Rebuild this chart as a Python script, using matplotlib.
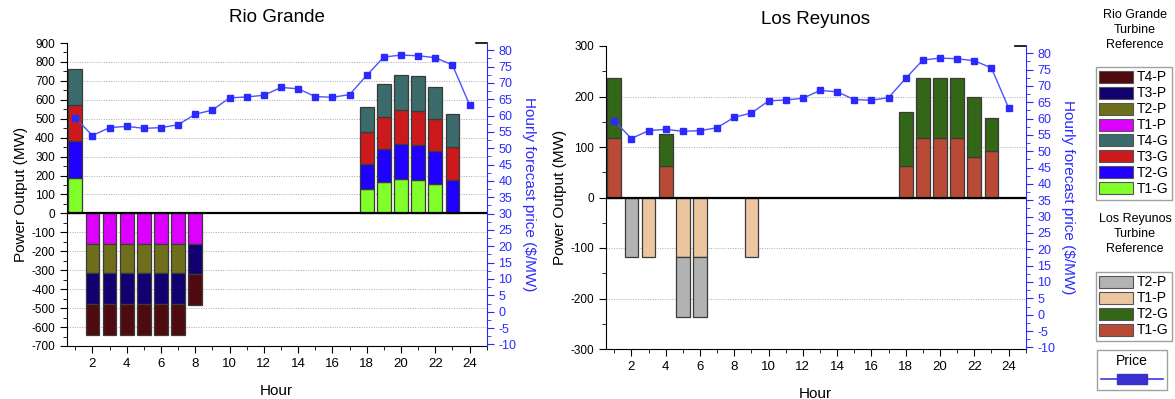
import numpy as np
import matplotlib
matplotlib.use("Agg")
import matplotlib.pyplot as plt
from matplotlib.patches import Patch
from matplotlib.lines import Line2D
from matplotlib.ticker import MultipleLocator

plt.rcParams['font.family'] = ['Liberation Sans', 'DejaVu Sans']
plt.rcParams['axes.unicode_minus'] = False

hours = np.arange(1, 25)

# hourly forecast price ($/MW), shared by both plants
price = [59.3, 53.9, 56.3, 56.7, 56.1, 56.3, 57.2, 60.4, 61.7, 65.4, 65.7, 66.2,
         68.6, 68.2, 65.8, 65.6, 66.4, 72.3, 77.9, 78.5, 78.3, 77.7, 75.5, 63.3]

# Rio Grande generation (MW), hours 1..24
rg_t1g = [188, 0, 0, 0, 0, 0, 0, 0, 0, 0, 0, 0, 0, 0, 0, 0, 0, 129, 165, 184, 175, 156, 0, 0]
rg_t2g = [193, 0, 0, 0, 0, 0, 0, 0, 0, 0, 0, 0, 0, 0, 0, 0, 0, 131, 173, 185, 185, 172, 177, 0]
rg_t3g = [190, 0, 0, 0, 0, 0, 0, 0, 0, 0, 0, 0, 0, 0, 0, 0, 0, 172, 170, 177, 180, 170, 172, 0]
rg_t4g = [192, 0, 0, 0, 0, 0, 0, 0, 0, 0, 0, 0, 0, 0, 0, 0, 0, 131, 174, 184, 188, 172, 175, 0]
# Rio Grande pumping (MW)
rg_t1p = [0, -160, -160, -160, -160, -160, -160, -160] + [0] * 16
rg_t2p = [0, -157, -157, -157, -157, -157, -157, 0] + [0] * 16
rg_t3p = [0, -162, -162, -162, -162, -162, -162, -158] + [0] * 16
rg_t4p = [0, -161, -161, -161, -161, -161, -161, -163] + [0] * 16

# Los Reyunos generation (MW)
lr_t1g = [118, 0, 0, 62, 0, 0, 0, 0, 0, 0, 0, 0, 0, 0, 0, 0, 0, 62, 118, 118, 118, 80, 92, 0]
lr_t2g = [118, 0, 0, 64, 0, 0, 0, 0, 0, 0, 0, 0, 0, 0, 0, 0, 0, 107, 118, 118, 118, 119, 65, 0]
# Los Reyunos pumping (MW)
lr_t1p = [0, 0, -118, 0, -118, -118, 0, 0, -118] + [0] * 15
lr_t2p = [0, -118, 0, 0, -118, -118, 0, 0, 0] + [0] * 15

rg_colors = {'T4-P': '#4f0a10', 'T3-P': '#100070', 'T2-P': '#6e6e1c', 'T1-P': '#dd00ff',
             'T4-G': '#3b6b6a', 'T3-G': '#cc1a1c', 'T2-G': '#1f00ff', 'T1-G': '#80ff2a'}
lr_colors = {'T2-P': '#b3b3b3', 'T1-P': '#ecc6a0', 'T2-G': '#346618', 'T1-G': '#b94b36'}

BLUE = '#2a2aff'
EDGE = '#3a3a3a'
W, H = 1175, 399


def stack(ax, series, colors):
    pos = np.zeros(24)
    neg = np.zeros(24)
    for name, vals in series:
        v = np.array(vals, dtype=float)
        base = np.where(v >= 0, pos, neg)
        m = v != 0
        ax.bar(hours[m], v[m], bottom=base[m], width=0.8, color=colors[name],
               edgecolor=EDGE, linewidth=0.9, zorder=3)
        pos += np.where(v > 0, v, 0)
        neg += np.where(v < 0, v, 0)


def style(ax, ylim, major, label_size):
    ax.set_xlim(0.5, 25)
    ax.set_ylim(*ylim)
    ax.xaxis.set_major_locator(MultipleLocator(2))
    ax.xaxis.set_minor_locator(MultipleLocator(1))
    ax.yaxis.set_major_locator(MultipleLocator(major))
    ax.yaxis.set_minor_locator(MultipleLocator(50))
    ax.tick_params(axis='x', which='major', length=5, labelsize=9.5, direction='out')
    ax.tick_params(axis='x', which='minor', length=3, direction='out')
    ax.tick_params(axis='y', which='major', length=5, labelsize=label_size, direction='out')
    ax.tick_params(axis='y', which='minor', length=3, direction='out')
    ax.spines['top'].set_visible(False)
    ax.spines['right'].set_visible(False)
    for v in ax.get_yticks():
        if ylim[0] < v < ylim[1] and v != 0:
            ax.axhline(v, color='#a8a8a8', linestyle=(0, (1, 1.5)), lw=0.7, zorder=1)
    ax.axhline(0, color='black', lw=1.6, zorder=4)
    ax.plot([0.975, 1.0], [1, 1], transform=ax.transAxes, color='black', lw=1.2, clip_on=False)
    ax.set_xlabel('Hour', fontsize=11, labelpad=10)
    ax.set_ylabel('Power Output (MW)', fontsize=11, labelpad=2)


def price_axis(ax):
    tw = ax.twinx()
    tw.plot(hours, price, color='#5050ff', lw=1.0, marker='s', markersize=4.5,
            markerfacecolor=BLUE, markeredgecolor=BLUE, zorder=5)
    tw.set_ylim(-10.5, 82.2)
    tw.yaxis.set_major_locator(MultipleLocator(5))
    tw.yaxis.set_minor_locator(MultipleLocator(2.5))
    tw.tick_params(axis='y', which='major', length=5, colors=BLUE, labelsize=9)
    tw.tick_params(axis='y', which='minor', length=3, colors=BLUE)
    tw.spines['right'].set_color(BLUE)
    for s in ['top', 'left', 'bottom']:
        tw.spines[s].set_visible(False)
    tw.set_ylabel(r'Hourly forecast price (\$/MW)', color=BLUE, fontsize=11,
                  rotation=-90, labelpad=14)
    return tw


fig = plt.figure(figsize=(W / 100, H / 100), dpi=100)

ax1 = fig.add_axes([66.7 / W, 1 - 346 / H, 420 / W, 303 / H])
stack(ax1, [('T1-G', rg_t1g), ('T2-G', rg_t2g), ('T3-G', rg_t3g), ('T4-G', rg_t4g),
            ('T1-P', rg_t1p), ('T2-P', rg_t2p), ('T3-P', rg_t3p), ('T4-P', rg_t4p)], rg_colors)
style(ax1, (-700, 900), 100, 8.5)
price_axis(ax1)

ax2 = fig.add_axes([605.7 / W, 1 - 349 / H, 420 / W, 303 / H])
stack(ax2, [('T1-G', lr_t1g), ('T2-G', lr_t2g), ('T1-P', lr_t1p), ('T2-P', lr_t2p)], lr_colors)
style(ax2, (-300, 300), 100, 8.5)
price_axis(ax2)

fig.text(276.7 / W, 1 - 17 / H, 'Rio Grande', ha='center', va='center', fontsize=13.5)
fig.text(815.7 / W, 1 - 19 / H, 'Los Reyunos', ha='center', va='center', fontsize=13.5)

# legends
leg_kw = dict(loc='upper left', fontsize=10, frameon=True, fancybox=False,
              edgecolor='#888888', handlelength=2.4, handleheight=0.95,
              handletextpad=0.25, labelspacing=0.14, borderpad=0.25, borderaxespad=0)

fig.text(1135 / W, 1 - 30 / H, 'Rio Grande\nTurbine\nReference', ha='center', va='center',
         fontsize=9, linespacing=1.35)
rg_handles = [Patch(facecolor=rg_colors[k], edgecolor='#555555', lw=0.8) for k in rg_colors]
fig.legend(rg_handles, list(rg_colors), bbox_to_anchor=(1096 / W, 1 - 67 / H), **leg_kw)

fig.text(1135 / W, 1 - 234 / H, 'Los Reyunos\nTurbine\nReference', ha='center', va='center',
         fontsize=9, linespacing=1.35)
lr_handles = [Patch(facecolor=lr_colors[k], edgecolor='#555555', lw=0.8) for k in lr_colors]
fig.legend(lr_handles, list(lr_colors), bbox_to_anchor=(1096 / W, 1 - 272 / H), **leg_kw)

rect = [(-1.5, -0.5), (1.5, -0.5), (1.5, 0.5), (-1.5, 0.5), (-1.5, -0.5)]
price_handle = Line2D([], [], color='#3a3ae0', lw=1.2, marker=rect, markersize=22,
                      markerfacecolor='#3a30cc', markeredgecolor='#3a30cc')
fig.legend([price_handle], [''], title='Price', title_fontsize=10, loc='upper left',
           bbox_to_anchor=(1097 / W, 1 - 350 / H), frameon=True, fancybox=False,
           edgecolor='#888888', handlelength=5.0, handletextpad=0, borderpad=0.3,
           borderaxespad=0, fontsize=9)

fig.savefig('out.png', dpi=100)
